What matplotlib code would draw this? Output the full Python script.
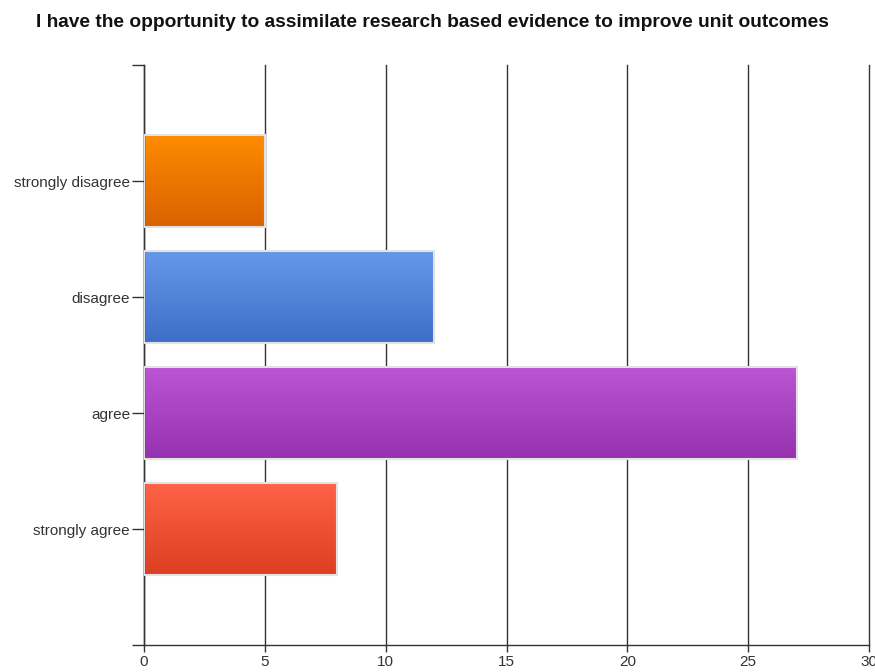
import numpy as np
import matplotlib
matplotlib.use("Agg")
import matplotlib.pyplot as plt
from matplotlib.colors import LinearSegmentedColormap

# Data
categories = ["strongly disagree", "disagree", "agree", "strongly agree"]
counts = [5, 12, 27, 8]
top_colors = ["#ff8c00", "#6698ea", "#bb55d4", "#ff6348"]
bottom_colors = ["#d96200", "#3d6fc8", "#9632b0", "#dc3f22"]

plt.rcParams['font.family'] = ['Liberation Sans', 'DejaVu Sans']

fig = plt.figure(figsize=(8.75, 6.72), dpi=100)
ax = fig.add_axes([144 / 875, 1 - 645 / 672, 725 / 875, 580 / 672])

y = np.arange(len(categories))
bars = ax.barh(y, counts, height=0.8, color="none", edgecolor="#e2e2e2",
               linewidth=1.5, zorder=3)

# gradient fill for each bar (lighter at top, darker at bottom)
for bar, c_top, c_bot in zip(bars, top_colors, bottom_colors):
    x0, y0 = bar.get_x(), bar.get_y()
    w, h = bar.get_width(), bar.get_height()
    cmap = LinearSegmentedColormap.from_list("g", [c_top, c_bot])
    grad = np.linspace(0, 1, 100).reshape(-1, 1)
    ax.imshow(grad, cmap=cmap, aspect="auto", extent=(x0, x0 + w, y0 + h, y0),
              origin="upper", zorder=2)

ax.set_xlim(0, 30)
ax.set_ylim(len(categories), -1)
ax.set_xticks(range(0, 31, 5))
ax.set_yticks(y)
ax.set_yticklabels(categories)
ax.set_yticks([-1, len(categories)], minor=True)

ax.grid(axis="x", color="#333333", linewidth=1.0, zorder=1)
for gl in ax.get_xgridlines():
    gl.set_clip_on(False)
ax.set_axisbelow(True)

for side in ["top", "right"]:
    ax.spines[side].set_visible(False)
for side in ["left", "bottom"]:
    ax.spines[side].set_color("#333333")
    ax.spines[side].set_linewidth(1.0)

ax.tick_params(axis="y", which="both", length=9, width=1, color="#333333",
               labelsize=11, labelcolor="#333333", pad=1)
ax.tick_params(axis="x", length=5, width=1, color="#333333", labelsize=11,
               labelcolor="#333333", pad=2)

fig.text(0.494, 0.966, "I have the opportunity to assimilate research based evidence to improve unit outcomes",
         ha="center", va="center", fontsize=13.8, fontweight="bold", color="#111111")

fig.savefig("out.png", dpi=100)
